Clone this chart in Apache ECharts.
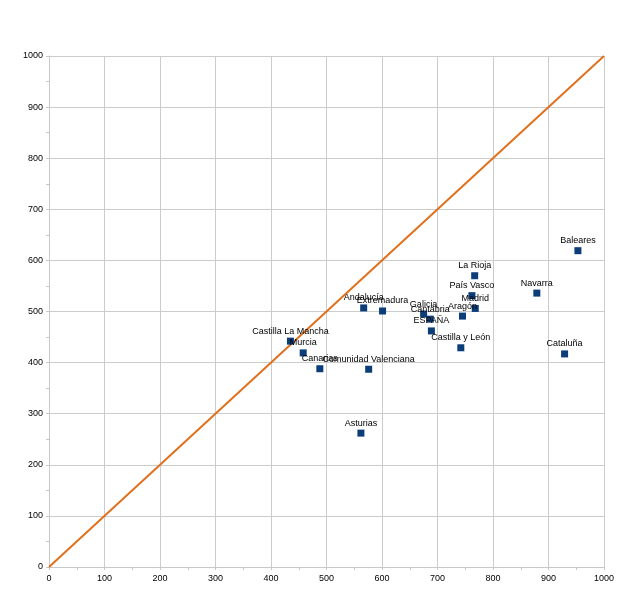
<!DOCTYPE html>
<html><head><meta charset="utf-8">
<script src="https://cdn.jsdelivr.net/npm/echarts@6/dist/echarts.min.js"></script>
<style>html,body{margin:0;padding:0;background:#fff}#c{width:640px;height:604px}</style>
</head><body><div id="c"></div>
<script>
const regions = ["Castilla La Mancha","Murcia","Canarias","Comunidad Valenciana","Andalucía","Extremadura","Galicia","Cantabria","ESPAÑA","Aragón","Madrid","País Vasco","La Rioja","Castilla y León","Navarra","Baleares","Cataluña","Asturias"];
const xValues = [435, 458, 488, 576, 567, 601, 675, 687, 689, 745, 768, 762, 767, 742, 879, 953, 929, 562];
const yValues = [442, 419, 388, 387, 507, 501, 495, 485, 462, 491, 506, 531, 570, 429, 536, 619, 417, 262];
const diagonal = [[0,0],[1000,1000]];
const axisTicks = {min:0, max:1000, interval:100};

const chart = echarts.init(document.getElementById('c'), null, {renderer:'canvas'});
const pts = regions.map((n,i)=>({name:n, value:[xValues[i], yValues[i]]}));
const font = 'Liberation Sans, Arial, sans-serif';
const axisCommon = {
  type:'value', min:axisTicks.min, max:axisTicks.max, interval:axisTicks.interval,
  axisLine:{show:true, lineStyle:{color:'#c8c8c8', width:1}},
  axisTick:{show:true, length:3, lineStyle:{color:'#c8c8c8'}},
  minorTick:{show:true, splitNumber:2, length:3, lineStyle:{color:'#c8c8c8'}},
  splitLine:{show:true, lineStyle:{color:'#cccccc', width:1}},
  axisLabel:{color:'#000', fontSize:9, fontFamily:font, formatter:v=>String(v)}
};
chart.setOption({
  animation:false,
  grid:{left:49, right:36, top:56, bottom:37, containLabel:false},
  xAxis:Object.assign({}, axisCommon, {axisLabel:Object.assign({}, axisCommon.axisLabel, {margin:7})}),
  yAxis:Object.assign({}, axisCommon, {axisLabel:Object.assign({}, axisCommon.axisLabel, {margin:6})}),
  series:[
    {type:'line', data:diagonal, symbol:'none', lineStyle:{color:'#e0701c', width:2}, z:2},
    {type:'scatter', data:pts, symbol:'rect', symbolSize:7,
     itemStyle:{color:'#0b3d78', opacity:1},
     label:{show:true, position:'top', distance:2, formatter:'{b}', color:'#000', fontSize:9, fontFamily:font},
     emphasis:{disabled:true},
     labelLayout:{hideOverlap:false}, z:3}
  ]
});
</script></body></html>
